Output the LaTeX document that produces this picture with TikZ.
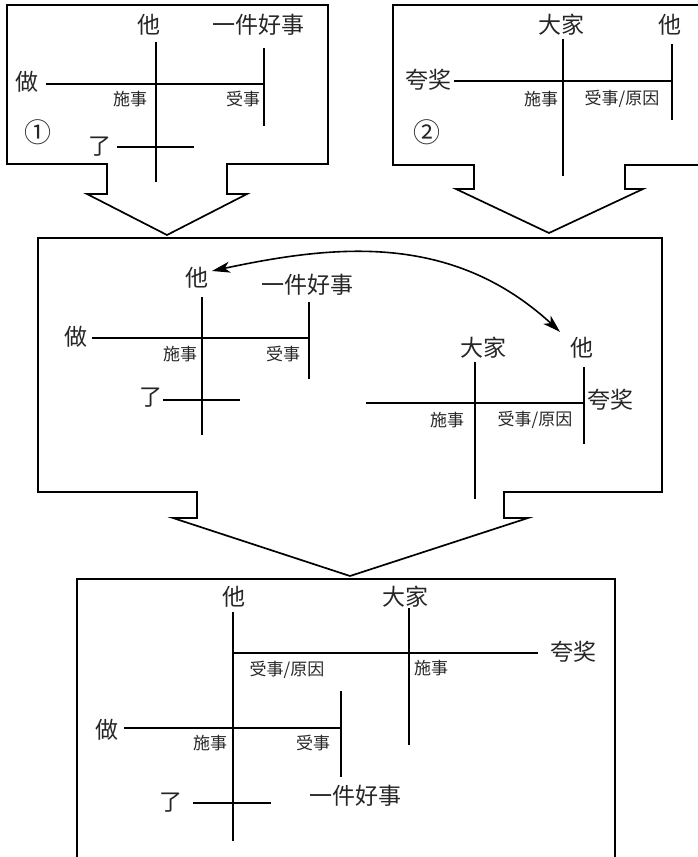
\documentclass[tikz,border=0pt]{standalone}
\usepackage{fontspec}
\newfontfamily\cjk{Noto Sans CJK SC}
\usetikzlibrary{arrows.meta,bending}
\tikzset{
  big/.style={font=\cjk\fontsize{23}{23}\selectfont, inner sep=0pt, text=black!85},
  small/.style={font=\cjk\fontsize{17}{17}\selectfont, inner sep=0pt, text=black!85},
  circ/.style={font=\cjk\fontsize{27}{27}\selectfont, inner sep=0pt, text=black!85},
  ln/.style={line width=1.8pt, line cap=rect},
  frame/.style={line width=1.7pt, line join=miter},
  tip/.style={-{Stealth[length=18pt,width=11pt,inset=5pt,bend]}},
}
\begin{document}
\begin{tikzpicture}[x=1pt,y=-1pt]
\useasboundingbox (0,0) rectangle (698,857);
\clip (0,0) rectangle (698,857);
% ---------- frames ----------
\draw[frame] (7,5) -- (328,5) -- (328,164) -- (227,164) -- (227,194) -- (247,194)
  -- (167,235) -- (87,194) -- (107,194) -- (107,164) -- (7,164) -- cycle;
\draw[frame] (393,5) -- (720,5) -- (720,165) -- (625,165) -- (625,189) -- (643,189)
  -- (549,233) -- (456,189) -- (474,189) -- (474,165) -- (393,165) -- cycle;
\draw[frame] (38,238) -- (662,238) -- (662,492) -- (504,492) -- (504,518) -- (528,518)
  -- (350,576) -- (173,518) -- (197,518) -- (197,492) -- (38,492) -- cycle;
\draw[frame] (77,870) -- (77,579) -- (615,579) -- (615,870);

% ---------- box 1 ----------
\node[big] (a1) at (149,25) {他};
\node[big] (a2) at (258,25) {一件好事};
\node[big] (a3) at (27,82) {做};
\node[small] (a4) at (130,99) {施事};
\node[small] (a5) at (243,99) {受事};
\node[circ] (a6) at (38,132) {①};
\node[big] (a7) at (100,147) {了};
\draw[ln] (156,43) -- (156,181);
\draw[ln] (264,49) -- (264,125);
\draw[ln] (47,84) -- (264,84);
\draw[ln] (118,147) -- (193,147);

% ---------- box 2 ----------
\node[big] (b1) at (561,25) {大家};
\node[big] (b2) at (670,25) {他};
\node[big] (b3) at (428,80) {夸奖};
\node[small] (b4) at (541,99) {施事};
\node[small] (b5) at (622,99) {受事/原因};
\node[circ] (b6) at (427,132) {②};
\draw[ln] (563,40) -- (563,175);
\draw[ln] (672,45) -- (672,119);
\draw[ln] (455,81) -- (672,81);

% ---------- middle box ----------
\node[big] (c1) at (197,278) {他};
\node[big] (c2) at (307,285) {一件好事};
\node[big] (c3) at (76,337) {做};
\node[small] (c4) at (180,354) {施事};
\node[small] (c5) at (283,354) {受事};
\node[big] (c6) at (151,398) {了};
\draw[ln] (202,298) -- (202,434);
\draw[ln] (309,303) -- (309,378);
\draw[ln] (93,338) -- (309,338);
\draw[ln] (164,400) -- (239,400);
\node[big] (d1) at (483,348) {大家};
\node[big] (d2) at (582,348) {他};
\node[big] (d3) at (610,400) {夸奖};
\node[small] (d4) at (447,420) {施事};
\node[small] (d5) at (535,420) {受事/原因};
\draw[ln] (475,363) -- (475,498);
\draw[ln] (584,368) -- (584,443);
\draw[ln] (367,403) -- (584,403);
\coordinate (arrL) at (212,271);
\coordinate (arrR) at (560,332);
\draw[line width=1.6pt, {Stealth[length=18pt,width=11pt,inset=5pt,bend]}-{Stealth[length=18pt,width=11pt,inset=5pt,bend]}]
  (arrL) .. controls (330,245) and (455,228) .. (arrR);

% ---------- bottom box ----------
\node[big] (e1) at (234,597) {他};
\node[big] (e2) at (405,597) {大家};
\node[small] (e3) at (287,670) {受事/原因};
\node[small] (e4) at (431,668) {施事};
\node[big] (e5) at (573,652) {夸奖};
\node[big] (e6) at (107,730) {做};
\node[small] (e7) at (210,743) {施事};
\node[small] (e8) at (313,743) {受事};
\node[big] (e9) at (171,803) {了};
\node[big] (e10) at (355,796) {一件好事};
\draw[ln] (233,613) -- (233,840);
\draw[ln] (233,653) -- (537,653);
\draw[ln] (409,609) -- (409,744);
\draw[ln] (125,728) -- (341,728);
\draw[ln] (341,692) -- (341,776);
\draw[ln] (194,803) -- (270,803);
\end{tikzpicture}
\end{document}
